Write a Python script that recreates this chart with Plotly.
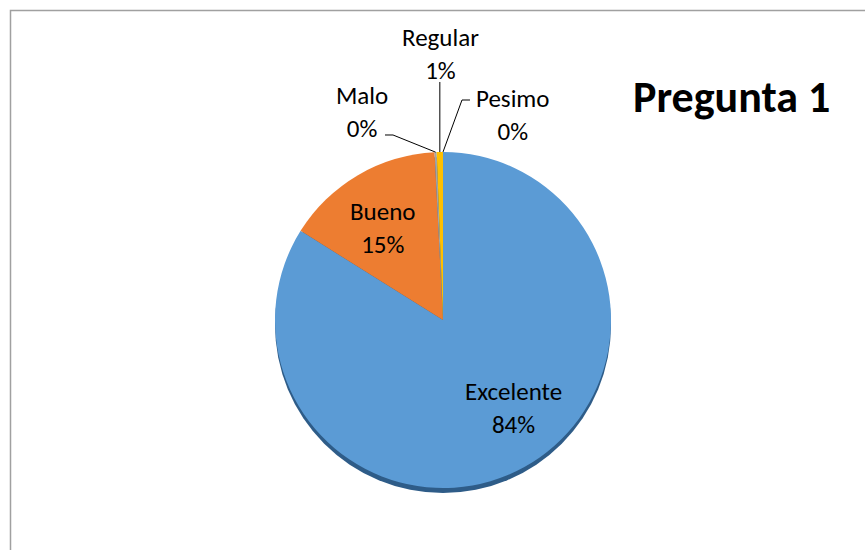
import math
import plotly.graph_objects as go

# ---- data ----
categories = ["Excelente", "Bueno", "Malo", "Regular", "Pesimo"]
values = [83.9, 15.3, 0.2, 0.6, 0.0]
colors = ["#5B9BD5", "#ED7D31", "#A5A5A5", "#FFC000", "#4472C4"]
title_text = "Pregunta 1"

# ---- layout geometry (pixels) ----
W, H = 865, 550
CX, CY, R = 443, 320, 168
SHADOW = 5

def px(x):
    return x / W

def py(y):
    return 1 - y / H

total = sum(values)
pcts = [round(v / total * 100) for v in values]

# mid angle (clockwise from 12 o'clock) of each slice
mids = []
cum = 0.0
for v in values:
    mids.append((cum + v / 2) / total * 360.0)
    cum += v

def rim(i):
    a = math.radians(mids[i])
    return CX + R * math.sin(a), CY - R * math.cos(a)

fig = go.Figure()

# shadow disc
fig.add_trace(go.Pie(
    values=[1], marker=dict(colors=["#2E5C88"]), sort=False,
    textinfo="none", hoverinfo="skip", showlegend=False,
    domain=dict(x=[px(CX - R), px(CX + R)], y=[py(CY + R + SHADOW), py(CY - R + SHADOW)]),
))

fig.add_trace(go.Pie(
    labels=categories, values=values, sort=False, direction="clockwise", rotation=0,
    marker=dict(colors=colors, line=dict(width=0)),
    textinfo="none", showlegend=False,
    domain=dict(x=[px(CX - R), px(CX + R)], y=[py(CY + R), py(CY - R)]),
))

FONT = "Carlito, Lato, Noto Sans, sans-serif"

# label centres (pixels)
label_pos = {
    "Excelente": (513, 408),
    "Bueno": (383, 228),
    "Regular": (440, 54),
    "Malo": (362, 112),
    "Pesimo": (513, 115),
}
for i, c in enumerate(categories):
    x, y = label_pos[c]
    fig.add_annotation(x=px(x), y=py(y), xref="paper", yref="paper",
                       text=f"{c}<br>{pcts[i]}%", showarrow=False,
                       font=dict(family=FONT, size=25, color="#000000"),
                       xanchor="center", yanchor="middle")

# leader lines for small slices
elbows = {
    "Malo": [(385, 135), (393, 135)],
    "Regular": None,
    "Pesimo": [(470, 100), (462, 100)],
}
for c, pts in elbows.items():
    i = categories.index(c)
    rx, ry = rim(i)
    if pts is None:
        pts = [(rx, 82)]
    path_pts = pts + [(rx, ry)]
    d = "M " + " L ".join(f"{px(a):.5f},{py(b):.5f}" for a, b in path_pts)
    fig.add_shape(type="path", path=d, xref="paper", yref="paper",
                  line=dict(color="#000000", width=1))

# title
fig.add_annotation(x=px(731), y=py(97), xref="paper", yref="paper",
                   text=f"<b>{title_text}</b>", showarrow=False,
                   font=dict(family=FONT, size=44, color="#000000"),
                   xanchor="center", yanchor="middle")

# chart border
fig.add_shape(type="rect", xref="paper", yref="paper",
              x0=px(10.5), x1=1.05, y0=-0.05, y1=py(10.5),
              line=dict(color="#A0A0A0", width=1.5), fillcolor="rgba(0,0,0,0)")

fig.update_layout(width=W, height=H, margin=dict(l=0, r=0, t=0, b=0),
                  paper_bgcolor="#FFFFFF", plot_bgcolor="#FFFFFF")

fig.write_html("out.html", config={"displayModeBar": False},
               post_script="document.body.style.margin='0px';")
